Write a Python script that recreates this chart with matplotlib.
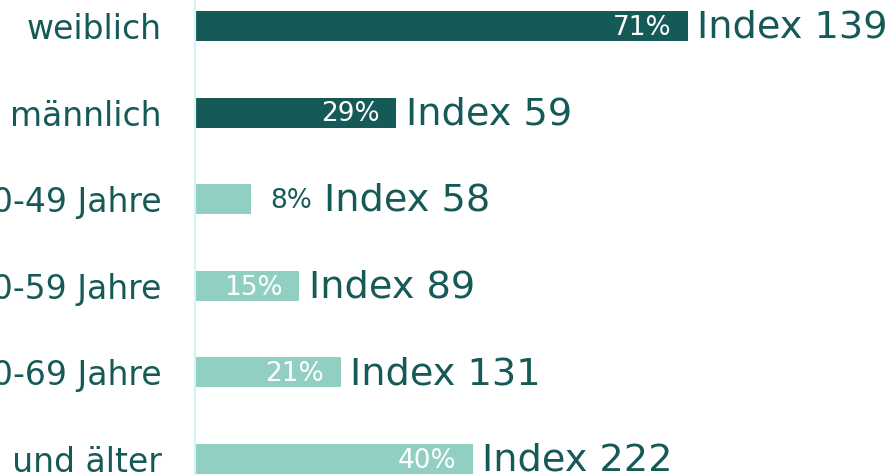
import matplotlib
matplotlib.use("Agg")
import matplotlib.pyplot as plt

# Share of buyers (%) and index per target group
categories = ["weiblich", "männlich", "40-49 Jahre", "50-59 Jahre", "60-69 Jahre", "70 Jahre und älter"]
shares = [71, 29, 8, 15, 21, 40]
index_values = [139, 59, 58, 89, 131, 222]
groups = ["gender", "gender", "age", "age", "age", "age"]

dark = "#165a58"
light = "#91cfc3"
group_colors = {"gender": dark, "age": light}

fig = plt.figure(figsize=(8.91, 4.75), dpi=100)
# axis starts at x=195 px, one percent ~ 6.94 px
ax = fig.add_axes([195 / 891, 0, 696 / 891, 1])
px_per_pct = 6.94
ax.set_xlim(0, 696 / px_per_pct)
row = 86.6
ax.set_ylim((475 - 26) / row, -26 / row)

ypos = list(range(len(categories)))
ax.barh(ypos, shares, height=30 / row,
        color=[group_colors[g] for g in groups])

ax.set_yticks(ypos)
ax.set_yticklabels(categories, fontsize=23.8, color=dark, family="DejaVu Sans")
ax.tick_params(axis="y", length=0, pad=24)
ax.set_xticks([])
for side in ["top", "right", "bottom"]:
    ax.spines[side].set_visible(False)
ax.spines["left"].set_color("#d3f5f5")
ax.spines["left"].set_linewidth(1.6)

fig.canvas.draw()
renderer = fig.canvas.get_renderer()

for y, v, idx in zip(ypos, shares, index_values):
    if v >= 12:
        # percentage inside the bar, right aligned
        ax.annotate(f"{v}%", (v, y + 0.02), xytext=(-12, 0), textcoords="offset points",
                    ha="right", va="center", fontsize=19, color="white")
        ax.annotate(f"Index {idx}", (v, y + 0.02), xytext=(7, 0),
                    textcoords="offset points", ha="left", va="center",
                    fontsize=27.5, color=dark)
    else:
        # too small: percentage next to the bar
        t = ax.annotate(f"{v}%", (v, y + 0.02), xytext=(14, 0), textcoords="offset points",
                        ha="left", va="center", fontsize=19, color=dark)
        bb = t.get_window_extent(renderer)
        x_data = ax.transData.inverted().transform((bb.x1, 0))[0]
        ax.annotate(f"Index {idx}", (x_data, y + 0.02), xytext=(9, 0),
                    textcoords="offset points", ha="left", va="center",
                    fontsize=27.5, color=dark)

fig.savefig("out.png", dpi=100)
